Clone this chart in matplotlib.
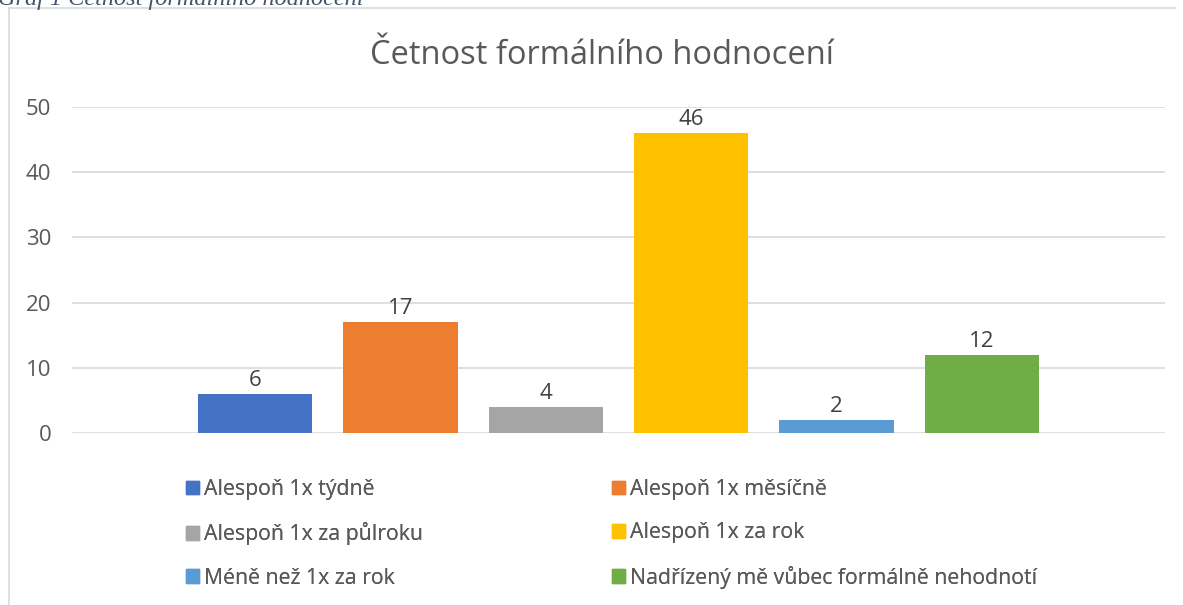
import matplotlib.pyplot as plt
from matplotlib.patches import Patch
from matplotlib.lines import Line2D

# data
labels = ['Alespoň 1x týdně', 'Alespoň 1x měsíčně', 'Alespoň 1x za půlroku',
          'Alespoň 1x za rok', 'Méně než 1x za rok',
          'Nadřízený mě vůbec formálně nehodnotí']
values = [6, 17, 4, 46, 2, 12]
colors = ['#4472C4', '#ED7D31', '#A5A5A5', '#FFC000', '#5B9BD5', '#70AD47']
yticks = [0, 10, 20, 30, 40, 50]

txt = '#595959'
plt.rcParams['font.family'] = ['Open Sans', 'DejaVu Sans']
W, H = 1183, 605

fig = plt.figure(figsize=(W / 100, H / 100), dpi=100)

# cut-off caption above the chart frame
fig.text(-2 / W, 1 - 5 / H, 'Graf 1 Četnost formálního hodnocení',
         family='Liberation Serif', style='italic', fontsize=17.5,
         color='#44546A', va='baseline', ha='left')

# chart frame (top + left edges visible)
fig.add_artist(Line2D([9 / W, 1175 / W], [1 - 8 / H, 1 - 8 / H],
                      color='#D9D9D9', lw=1.2, transform=fig.transFigure))
fig.add_artist(Line2D([9 / W, 9 / W], [0, 1 - 8 / H],
                      color='#D9D9D9', lw=1.2, transform=fig.transFigure))

ax = fig.add_axes([72 / W, 1 - 433 / H, 1093 / W, 326 / H])
x = list(range(len(values)))
bars = ax.bar(x, values, width=0.786, color=colors, zorder=3)
ax.set_xlim(-1.26, len(values) - 1 + 1.26)
ax.set_ylim(0, 50)
ax.set_yticks(yticks)
ax.set_xticks([])
ax.yaxis.grid(True, color='#D9D9D9', lw=1.2)
for s in ax.spines.values():
    s.set_visible(False)
ax.tick_params(axis='y', length=0, pad=15, labelsize=16, labelcolor=txt)

for b, v in zip(bars, values):
    ax.annotate(str(v), (b.get_x() + b.get_width() / 2, v), xytext=(0, 2),
                textcoords='offset points', ha='center', va='bottom',
                fontsize=16, color='#404040')

fig.text(602 / W, 1 - 55 / H, 'Četnost formálního hodnocení', ha='center',
         va='center', fontsize=23.5, color=txt)

# legend, row-major like the original: two columns drawn as two legends
for col, x0 in ((0, 186), (1, 612)):
    idx = [col, col + 2, col + 4]
    leg = fig.legend([Patch(color=colors[i]) for i in idx],
                     [labels[i] for i in idx],
                     loc='upper left', bbox_to_anchor=(x0 / W, 1 - 479 / H),
                     frameon=False, fontsize=15.3, labelcolor=txt,
                     borderpad=0, borderaxespad=0,
                     handlelength=0.6, handleheight=0.6, handletextpad=0.25,
                     labelspacing=1.05)
    fig.add_artist(leg)

fig.savefig('out.png', dpi=100)
